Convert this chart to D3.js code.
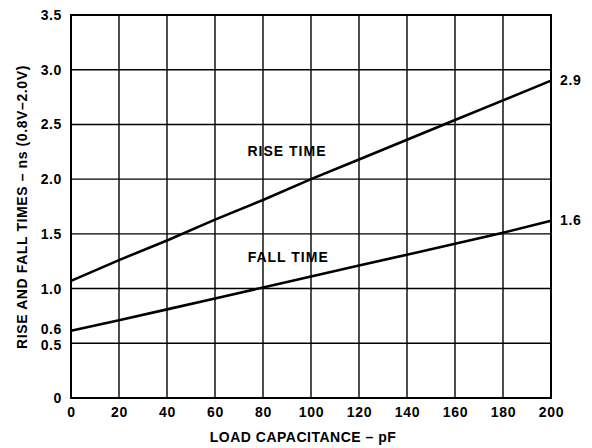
<!DOCTYPE html>
<html>
<head>
<meta charset="utf-8">
<script src="https://cdn.jsdelivr.net/npm/d3@7"></script>
<style>
  html, body { margin: 0; padding: 0; background: #fff; }
  text { font-family: "Liberation Sans", Arial, sans-serif; font-weight: bold; fill: #000; }
</style>
</head>
<body>
<svg id="chart" width="592" height="448"></svg>
<script>
// Data
const loadCap = [0, 20, 40, 60, 80, 100, 120, 140, 160, 180, 200];
const riseTime = [1.07, 1.26, 1.44, 1.63, 1.81, 2.0, 2.18, 2.36, 2.54, 2.72, 2.9];
const fallTime = [0.615, 0.71, 0.81, 0.91, 1.01, 1.11, 1.21, 1.31, 1.41, 1.51, 1.62];
const xTicks = [0, 20, 40, 60, 80, 100, 120, 140, 160, 180, 200];
const yGrid = [0, 0.5, 1.0, 1.5, 2.0, 2.5, 3.0, 3.5];
const yTickLabels = [0, 0.5, 0.6, 1.0, 1.5, 2.0, 2.5, 3.0, 3.5];
const endLabels = [{ text: "2.9", value: 2.9 }, { text: "1.6", value: 1.62 }];
const seriesLabels = [
  { text: "RISE TIME", x: 90, y: 2.21 },
  { text: "FALL TIME", x: 90.5, y: 1.243 }
];

const svg = d3.select("#chart");
const pL = 71, pR = 551, pT = 15, pB = 398;
const FS = "14px";

const x = d3.scaleLinear().domain([0, 200]).range([pL, pR]);
const y = d3.scaleLinear().domain([0, 3.5]).range([pB, pT]);

// grid
svg.append("g").selectAll("line").data(xTicks).join("line")
  .attr("x1", d => x(d)).attr("x2", d => x(d))
  .attr("y1", pT).attr("y2", pB)
  .attr("stroke", "#000").attr("stroke-width", 1.4);
svg.append("g").selectAll("line").data(yGrid).join("line")
  .attr("x1", pL).attr("x2", pR)
  .attr("y1", d => y(d)).attr("y2", d => y(d))
  .attr("stroke", "#000").attr("stroke-width", 1.4);

// frame
svg.append("rect").attr("x", pL).attr("y", pT)
  .attr("width", pR - pL).attr("height", pB - pT)
  .attr("fill", "none").attr("stroke", "#000").attr("stroke-width", 2);

// x axis
const xAxis = d3.axisBottom(x).tickValues(xTicks).tickSize(0).tickPadding(9).tickFormat(d3.format("d"));
const gx = svg.append("g").attr("transform", `translate(0,${pB})`).call(xAxis);
gx.select(".domain").remove();
gx.selectAll("text").style("font-size", FS).style("font-family", "Liberation Sans, Arial, sans-serif")
  .style("font-weight", "bold").style("letter-spacing", "0.8px");

// y axis
const yAxis = d3.axisLeft(y).tickValues(yTickLabels).tickSize(0).tickPadding(9)
  .tickFormat(d => d === 0 ? "0" : d3.format(".1f")(d));
const gy = svg.append("g").attr("transform", `translate(${pL},0)`).call(yAxis);
gy.select(".domain").remove();
gy.selectAll("text").style("font-size", FS).style("font-family", "Liberation Sans, Arial, sans-serif")
  .style("font-weight", "bold").style("letter-spacing", "0.6px");
gy.selectAll(".tick").filter(d => d === 0.6).select("text").attr("dy", "0.1em");
gy.selectAll(".tick").filter(d => d === 0.5).select("text").attr("dy", "0.45em");

// lines
const line = d3.line().x((d, i) => x(loadCap[i])).y(d => y(d));
svg.append("path").datum(riseTime).attr("d", line)
  .attr("fill", "none").attr("stroke", "#000").attr("stroke-width", 2.6);
svg.append("path").datum(fallTime).attr("d", line)
  .attr("fill", "none").attr("stroke", "#000").attr("stroke-width", 2.6);

// end labels
svg.append("g").selectAll("text").data(endLabels).join("text")
  .attr("x", pR + 9).attr("y", d => y(d.value)).attr("dy", "0.3em")
  .style("font-size", FS).style("letter-spacing", "0.6px").text(d => d.text);

// series labels
svg.append("g").selectAll("text").data(seriesLabels).join("text")
  .attr("x", d => x(d.x)).attr("y", d => y(d.y))
  .attr("text-anchor", "middle")
  .style("font-size", FS).style("letter-spacing", "1px").text(d => d.text);

// axis titles
svg.append("text").attr("x", 303).attr("y", 442).attr("text-anchor", "middle")
  .style("font-size", FS).style("letter-spacing", "0.5px").text("LOAD CAPACITANCE – pF");
svg.append("text").attr("transform", `translate(26.5,207) rotate(-90)`)
  .attr("text-anchor", "middle").style("font-size", FS).style("letter-spacing", "0.6px")
  .text("RISE AND FALL TIMES – ns (0.8V–2.0V)");
</script>
</body>
</html>
